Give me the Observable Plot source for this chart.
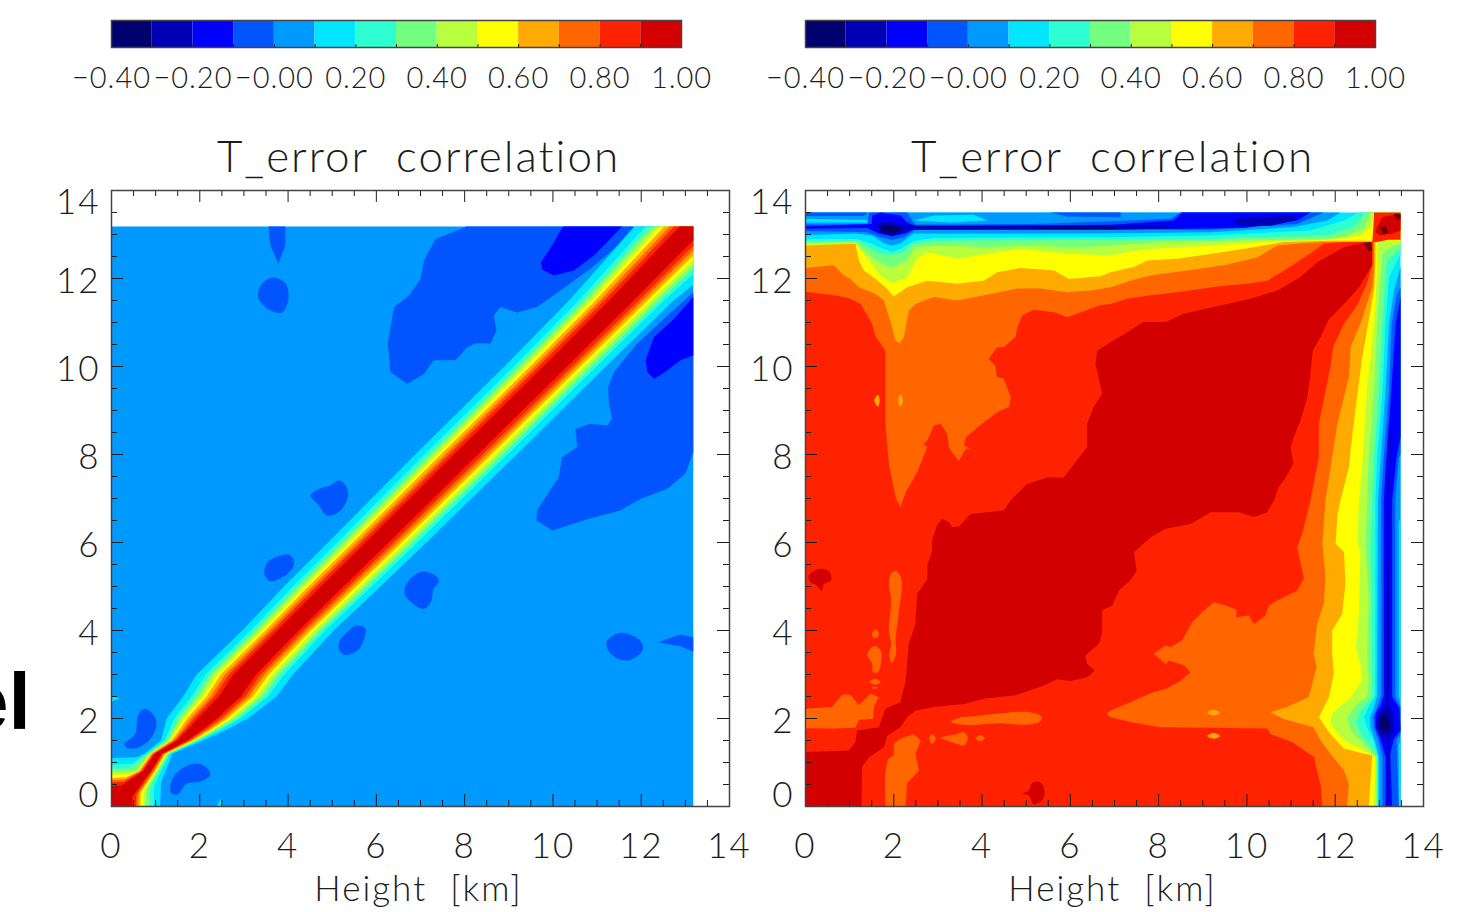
<!DOCTYPE html>
<html><head><meta charset="utf-8">
<script src="https://cdn.jsdelivr.net/npm/d3@7"></script>
<script src="https://cdn.jsdelivr.net/npm/@observablehq/plot@0.6"></script>
<style>
html,body{margin:0;padding:0;background:#fff;width:1457px;height:912px;overflow:hidden}
#stage{position:relative;width:1457px;height:912px;overflow:hidden}
#stage>svg{position:absolute}
#cut{position:absolute;left:-36px;top:662px;font:bold 80px/1 "Liberation Sans";color:#000}
</style></head><body><div id="stage"><div id="cut">el</div></div>
<script>
// ---- colour key ----
const binStarts=[-0.4,-0.3,-0.2,-0.1,0,0.1,0.2,0.3,0.4,0.5,0.6,0.7,0.8,0.9];
const binThresholds=[-0.3,-0.2,-0.1,0,0.1,0.2,0.3,0.4,0.5,0.6,0.7,0.8,0.9,1.0];
const binColors=["#00006e","#0000b4","#0000ff","#0055ff","#0099ff","#00e6ff","#2effd1","#73ff80","#b8ff3d","#ffff00","#ffaa00","#ff6600","#ff2200","#d20000","#700000"];
const keyTicks=[-0.4,-0.2,0,0.2,0.4,0.6,0.8,1.0];
const keyLabels=["−0.40","−0.20","−0.00","0.20","0.40","0.60","0.80","1.00"];
// ---- axes ----
const majorTicks=[0,2,4,6,8,10,12,14];
const minorTicks=[0.5,1,1.5,2.5,3,3.5,4.5,5,5.5,6.5,7,7.5,8.5,9,9.5,10.5,11,11.5,12.5,13,13.5];
const titleText="T_error  correlation";
const axisText="Height  [km]";

// ---- left panel: contour outlines in km ----
const leftBase=[[0,0],[13.18,0],[13.18,13.18],[0,13.18]];
const lBlueUpper=[[8.04,13.18],[7.87,13.11],[7.34,12.9],[7.08,12.41],[7.0,11.99],[6.74,11.61],[6.4,11.35],[6.26,10.52],[6.32,9.87],[6.7,9.61],[7.08,9.83],[7.3,10.14],[7.79,10.14],[8.06,10.44],[8.25,10.53],[8.59,10.52],[8.72,10.82],[8.66,11.16],[8.81,11.35],[9.19,11.23],[9.64,11.35],[10.17,11.73],[10.85,12.22],[11.38,12.67],[11.83,13.18]];
const lDeepUpper=[[10.23,13.18],[9.98,12.75],[9.73,12.37],[9.76,12.2],[10.02,12.07],[10.47,12.18],[10.93,12.52],[11.57,13.18]];
const lBlueLower=[[13.18,11.69],[12.51,11.08],[11.91,10.52],[11.38,9.87],[11.25,9.53],[11.27,9.15],[11.34,8.81],[11.23,8.66],[10.85,8.7],[10.51,8.58],[10.55,8.17],[10.21,7.94],[10.13,7.48],[9.91,7.14],[9.64,6.73],[9.63,6.5],[9.99,6.27],[10.85,6.55],[11.53,6.73],[11.98,6.99],[12.59,7.22],[13.0,7.57],[13.18,8.05]];
const lDeepLower=[[13.18,11.58],[12.74,11.08],[12.29,10.67],[12.1,10.14],[12.14,9.87],[12.29,9.72],[12.51,9.85],[12.89,10.14],[13.18,10.25]];
const lSmallBlue=[
 [[3.56,13.18],[3.94,13.18],[3.94,12.75],[3.78,12.34],[3.6,12.75]],
 [[3.65,12.02],[3.94,11.89],[4.01,11.55],[3.87,11.23],[3.6,11.27],[3.33,11.55],[3.38,11.84]],
 [[4.51,7.07],[4.66,7.2],[4.96,7.3],[5.15,7.41],[5.3,7.3],[5.36,7.07],[5.19,6.73],[4.89,6.61],[4.7,6.84]],
 [[3.49,5.48],[3.6,5.61],[4.02,5.73],[4.13,5.59],[4.09,5.4],[3.87,5.21],[3.6,5.12],[3.47,5.25]],
 [[6.74,5.14],[7.04,5.34],[7.3,5.27],[7.42,5.12],[7.3,4.95],[7.23,4.64],[7.06,4.49],[6.64,4.83]],
 [[5.3,3.92],[5.53,4.11],[5.75,4.04],[5.68,3.7],[5.53,3.51],[5.26,3.45],[5.15,3.58],[5.17,3.77]],
 [[11.21,3.73],[11.53,3.95],[11.98,3.77],[12.03,3.55],[11.71,3.32],[11.35,3.43]],
 [[12.37,3.73],[12.89,3.91],[13.18,3.84],[13.18,3.52],[12.89,3.64]],
 [[0.29,1.42],[0.54,1.65],[0.6,2.07],[0.75,2.22],[0.96,2.07],[1.02,1.84],[0.85,1.5],[0.58,1.33],[0.36,1.33]],
 [[1.34,0.52],[1.49,0.78],[1.86,0.97],[2.09,0.93],[2.24,0.73],[2.02,0.57],[1.71,0.52],[1.49,0.27],[1.35,0.32]]
];
const lCyanBits=[[[2.38,0],[2.47,0.17],[2.52,0]],[[0,2.38],[0.18,2.46],[0,2.52]]];
// diagonal ridge, read as half-widths per contour and a centre/width profile along it
const ridgeLevels=[0.15,0.25,0.35,0.45,0.55,0.65,0.75,0.85,0.95];
const ridgeHalfWidth=[1.15,0.94,0.84,0.75,0.66,0.57,0.47,0.38,0.27];
const ridgeCorner=[1.1,0.95,0.85,0.78,0.72,0.65,0.6,0.55,0.47];
const ridgeHeight=[0.8,1.2,1.5,1.75,2,2.5,3,4,5,6,8,10,11.5];
const ridgeCentre=[0.8,1.06,1.6,1.9,2.17,2.68,3.02,4,5,6.02,8.03,10.05,11.55];
const ridgeProfile=[0.32,0.28,0.42,0.62,0.8,0.92,0.95,0.9,0.95,0.97,1,1,1.03];
const ridgeEnd=13.18, ridgeEndProfile=1.15;

// ---- right panel: contour outlines in km ----
const rightBase=[[0,0],[13.48,0],[13.48,13.5],[0,13.5]];
const rGe20=[[0,0],[12.97,0],[12.97,1.12],[12.88,1.46],[12.72,1.8],[12.65,2.03],[12.76,2.26],[12.91,2.52],[12.91,6.96],[12.95,7.94],[13.07,9.45],[13.14,10.97],[13.22,12.03],[13.48,12.56],[13.48,13.5],[12.54,13.5],[12.2,13.32],[11.44,13.09],[9.18,12.98],[6.91,12.94],[2.91,12.92],[2.45,12.86],[2.15,12.67],[1.96,12.61],[1.77,12.67],[1.51,12.79],[1.17,12.9],[0,12.89]];
const rGe30=[[0,0],[12.95,0],[12.95,1.12],[12.88,1.27],[12.65,1.54],[12.46,1.92],[12.61,2.22],[12.84,2.49],[12.84,2.86],[12.8,5.97],[12.84,6.96],[12.88,7.94],[12.99,9.45],[13.07,10.97],[13.14,12.1],[13.18,12.41],[13.48,12.67],[13.48,13.5],[12.69,13.5],[12.42,13.17],[11.82,12.98],[9.18,12.9],[6.91,12.88],[2.91,12.86],[2.42,12.79],[2.23,12.6],[1.96,12.54],[1.7,12.56],[1.44,12.71],[1.17,12.86],[0,12.85]];
const rGe40=[[0,0],[12.93,0],[12.93,1.12],[12.65,1.42],[12.35,1.73],[12.27,2.03],[12.46,2.3],[12.72,2.49],[12.76,2.86],[12.72,3.47],[12.76,4.68],[12.69,5.97],[12.72,6.96],[12.76,7.94],[12.88,9.45],[12.95,10.97],[13.03,12.1],[13.07,12.56],[13.25,12.71],[13.48,12.79],[13.48,13.5],[12.8,13.5],[12.65,13.13],[12.2,12.94],[11.82,12.9],[9.18,12.85],[8.04,12.83],[6.91,12.75],[6.16,12.7],[5.17,12.75],[4.12,12.71],[3.06,12.75],[2.49,12.71],[2.3,12.41],[1.96,12.24],[1.66,12.37],[1.36,12.6],[1.13,12.83],[0,12.8]];
const rGe50=[[0,0],[12.88,0],[12.91,1.12],[12.57,1.31],[12.2,1.5],[11.89,1.88],[11.93,2.11],[12.35,2.49],[12.61,2.86],[12.57,3.24],[12.46,3.62],[12.5,3.92],[12.54,4.45],[12.57,5.82],[12.5,5.97],[12.54,6.96],[12.61,7.71],[12.72,9.45],[12.88,10.97],[12.95,12.1],[12.95,12.86],[13.48,12.85],[13.48,13.5],[12.88,13.5],[12.8,13.17],[12.57,12.98],[11.82,12.88],[10.31,12.83],[9.18,12.75],[7.82,12.67],[7.29,12.6],[6.91,12.52],[6.53,12.54],[5.93,12.56],[4.87,12.67],[4.12,12.56],[3.44,12.45],[2.76,12.6],[2.53,12.45],[2.3,12.02],[1.96,11.89],[1.7,12.07],[1.4,12.45],[1.17,12.75],[0,12.77]];
const rGe60=[[0,0],[12.76,0],[12.82,0.9],[12.84,1.16],[12.2,1.31],[11.89,1.65],[11.63,2.03],[11.86,2.49],[11.97,3.02],[11.93,3.47],[11.93,4.0],[12.16,4.38],[12.23,5.06],[12.2,5.78],[12.01,5.97],[12.05,6.65],[12.12,6.96],[12.31,7.71],[12.39,8.47],[12.61,10.21],[12.88,11.73],[12.91,12.3],[12.91,12.86],[11.82,12.86],[10.84,12.83],[10.16,12.71],[9.48,12.6],[8.42,12.45],[7.74,12.41],[7.44,12.26],[6.91,12.14],[6.68,12.05],[5.97,11.99],[5.63,12.18],[4.87,12.24],[4.34,12.14],[4.04,11.95],[3.44,11.88],[2.76,11.95],[2.3,11.8],[2.0,11.59],[1.81,11.8],[1.59,11.99],[1.32,12.18],[1.21,12.41],[1.13,12.79],[0,12.75]];
const rGe70=[[0,0],[12.27,0],[12.31,0.51],[12.2,0.82],[11.89,1.2],[11.67,1.5],[11.51,1.8],[10.84,1.99],[10.53,2.14],[10.91,2.26],[11.4,2.49],[11.58,3.17],[11.51,3.47],[11.59,4.15],[11.74,4.61],[11.78,5.21],[11.71,5.97],[11.78,6.96],[11.93,7.94],[12.05,8.7],[12.31,9.76],[12.35,10.44],[12.57,10.97],[12.84,11.8],[12.88,12.3],[12.88,12.83],[11.74,12.83],[11.14,12.79],[10.69,12.75],[10.23,12.48],[9.48,12.3],[8.65,12.18],[7.82,12.07],[7.36,11.95],[6.91,11.8],[6.46,11.73],[5.93,11.69],[5.32,11.77],[4.8,11.77],[4.19,11.65],[3.44,11.5],[2.91,11.58],[2.49,11.42],[2.34,11.27],[2.23,10.67],[2.13,10.52],[2.04,10.59],[1.96,10.89],[1.87,11.2],[1.78,11.5],[1.59,11.65],[1.21,11.8],[1.02,11.99],[0.87,12.07],[0.64,12.3],[0,12.24]];
const rGe80=[[0,0],[11.71,0],[11.68,0.44],[11.55,0.97],[11.53,1.12],[11.03,1.46],[10.53,1.65],[10.46,1.77],[9.18,1.79],[8.04,1.8],[7.36,1.92],[6.91,2.03],[6.82,2.11],[6.91,2.18],[7.36,2.37],[7.89,2.6],[8.16,2.67],[8.5,2.86],[8.72,3.05],[8.57,3.21],[8.23,3.32],[8.16,3.24],[7.89,3.47],[8.16,3.66],[8.27,3.62],[8.53,3.77],[8.76,4.19],[9.02,4.45],[9.25,4.64],[9.52,4.57],[9.76,4.47],[9.76,4.3],[10.04,4.34],[10.16,4.15],[10.42,4.34],[10.5,4.57],[10.76,4.72],[11.14,4.91],[11.29,5.18],[11.14,5.89],[11.25,6.2],[11.44,6.96],[11.63,7.94],[11.63,8.7],[11.89,9.98],[11.95,10.44],[12.2,10.97],[12.5,11.39],[12.72,11.88],[12.84,12.33],[12.84,12.83],[12.2,12.83],[11.74,12.79],[11.37,12.52],[10.91,12.22],[10.46,11.95],[10.0,11.88],[9.33,11.82],[8.42,11.69],[7.74,11.61],[7.29,11.54],[6.91,11.42],[6.68,11.39],[6.46,11.31],[5.93,11.12],[5.66,11.23],[5.17,11.29],[4.91,11.16],[4.8,10.89],[4.76,10.67],[4.49,10.44],[4.34,10.44],[4.15,10.17],[4.3,10.02],[4.34,9.76],[4.49,9.72],[4.65,9.3],[4.61,9.08],[4.34,8.96],[4.0,8.7],[3.63,8.39],[3.59,8.2],[3.74,8.13],[3.63,8.13],[3.47,7.86],[3.32,8.05],[3.25,8.17],[3.21,8.47],[3.06,8.7],[2.91,8.66],[2.76,8.32],[2.67,8.23],[2.76,8.17],[2.53,7.6],[2.27,7.14],[2.15,6.8],[2.04,7.03],[1.89,7.79],[1.81,8.7],[1.81,10.36],[1.7,10.52],[1.59,10.67],[1.51,10.97],[1.25,11.42],[1.02,11.54],[0.72,11.61],[0,11.7]];
const rGe90=[[12.84,12.83],[12.84,12.3],[12.54,11.8],[12.2,11.42],[11.86,11.08],[11.67,10.67],[11.49,10.36],[11.44,9.83],[11.37,9.3],[11.21,8.77],[11.06,8.39],[10.99,8.17],[11.05,7.79],[10.88,7.48],[10.72,7.26],[10.61,6.95],[10.46,6.69],[10.16,6.58],[9.82,6.69],[9.18,6.69],[8.72,6.42],[8.16,6.31],[7.82,6.12],[7.44,5.78],[7.5,5.36],[7.36,5.14],[7.1,4.91],[6.95,4.57],[6.72,4.46],[6.72,3.96],[6.65,3.7],[6.34,3.43],[6.38,3.24],[6.55,3.09],[6.38,2.94],[6.0,2.85],[5.7,2.89],[5.4,2.75],[5.1,2.64],[4.72,2.52],[4.04,2.45],[3.59,2.33],[2.91,2.26],[2.49,2.18],[2.3,2.03],[2.15,1.8],[1.85,1.61],[1.78,1.35],[1.44,1.12],[1.28,0.9],[1.27,0],[0,0],[0,1.24],[0.98,1.27],[1.13,1.46],[1.17,1.73],[1.66,1.8],[1.81,2.22],[2.15,2.37],[2.27,2.86],[2.34,3.7],[2.49,4.15],[2.53,4.83],[2.76,5.17],[2.76,5.48],[2.87,5.82],[2.87,6.05],[2.98,6.39],[3.1,6.54],[3.25,6.46],[3.32,6.35],[3.47,6.36],[3.74,6.65],[4.49,6.73],[4.65,6.96],[5.02,7.33],[5.48,7.48],[5.85,7.48],[6.38,8.17],[6.38,8.7],[6.53,9.08],[6.72,9.38],[6.57,10.06],[6.61,10.36],[6.91,10.55],[7.29,10.78],[7.66,11.01],[8.16,11.01],[8.57,11.2],[9.25,11.35],[10.08,11.54],[10.69,11.73],[11.21,12.03],[11.59,12.37],[12.2,12.71],[12.72,12.83]];
const rCornerRed=[[12.88,13.5],[13.48,13.5],[13.48,12.88],[13.2,12.88],[12.95,12.83],[12.84,12.83],[12.86,13.1]];
const rCornerCore=[[12.95,13.17],[13.07,13.39],[13.33,13.45],[13.48,13.43],[13.48,13.09],[13.29,13.02],[13.03,12.98],[12.91,13.05]];
const rCornerPeaks=[
 [[13.01,13.15],[13.14,13.2],[13.2,13.05],[13.1,13]],
 [[13.33,13.47],[13.48,13.47],[13.48,13.36],[13.39,13.33]],
 [[12.63,12.8],[12.79,12.83],[12.84,12.65],[12.76,12.62]]
];
const rIslands70=[
 [[0,2.22],[0.6,2.26],[0.83,2.54],[1.02,2.54],[1.21,2.3],[1.47,2.56],[1.66,2.49],[1.55,2.26],[1.53,1.99],[1.21,1.97],[1.13,1.79],[0.64,1.77],[0,1.78]],
 [[2.04,5.35],[2.17,5.17],[2.11,4.38],[2.04,3.77],[2.05,3.47],[1.95,3.26],[1.9,3.47],[1.94,3.7],[1.89,4.0],[1.94,4.68],[1.89,5.06],[1.94,5.29]],
 [[1.51,3.94],[1.59,4.02],[1.66,3.94],[1.61,3.83],[1.53,3.85]],
 [[1.4,3.46],[1.56,3.65],[1.7,3.55],[1.72,3.39],[1.64,3.05],[1.53,3.05],[1.51,3.24]],
 [[1.45,2.84],[1.59,2.9],[1.7,2.83],[1.59,2.77]],
 [[1.5,2.71],[1.64,2.71],[1.56,2.67]],
 [[1.81,0],[1.8,0.74],[1.87,1.08],[2.0,1.16],[2.0,1.42],[2.15,1.54],[2.45,1.65],[2.61,1.5],[2.49,1.2],[2.57,0.82],[2.3,0.52],[2.27,0]],
 [[3.29,1.92],[3.5,2.02],[3.81,2.05],[4.34,2.11],[5.02,2.15],[5.34,2.05],[5.32,1.94],[5.02,1.86],[4.42,1.89],[3.89,1.86],[3.59,1.86]],
 [[3.06,1.56],[3.44,1.65],[3.59,1.69],[3.68,1.56],[3.59,1.39],[3.44,1.42],[3.21,1.5]],
 [[2.8,1.54],[2.87,1.65],[2.95,1.54],[2.87,1.42]],
 [[3.85,1.55],[3.97,1.62],[4.06,1.55],[3.95,1.48]]
];
const rIslands60=[
 [[9.1,2.14],[9.25,2.2],[9.39,2.13],[9.25,2.07]],
 [[9.1,1.6],[9.25,1.67],[9.39,1.6],[9.25,1.54]],
 [[1.56,9.23],[1.64,9.36],[1.68,9.23],[1.64,9.09]],
 [[2.1,9.23],[2.15,9.36],[2.21,9.23],[2.15,9.09]]
];
const rIslands90=[
 [[0.08,5.25],[0.3,5.4],[0.53,5.35],[0.58,5.14],[0.42,5.05],[0.36,4.9],[0.26,5.02],[0.1,5.1]],
 [[4.91,0.29],[5.06,0.36],[5.14,0.54],[5.33,0.54],[5.42,0.33],[5.36,0.14],[5.17,0.05],[5.06,0.25]]
];
// low-correlation strip along the top
const topBelow10=[[0,12.99],[1.13,13.02],[1.51,12.98],[1.78,12.8],[1.96,12.75],[2.15,12.8],[2.45,13.02],[6.91,13.03],[9.18,13.05],[11.06,13.17],[11.82,13.32],[12.12,13.5],[0,13.5]];
const topCyanRows=[
 [[0,13.36],[1.4,13.33],[1.44,13.27],[0,13.27]],
 [[2.45,13.32],[2.91,13.43],[3.81,13.45],[4.12,13.32],[3.29,13.27]]
];
const topEdgeBlue=[
 [[0,13.5],[1.4,13.5],[1.33,13.42],[0,13.42]],
 [[5.55,13.5],[7.14,13.5],[7.14,13.39],[5.93,13.41]]
];
const topBelow0=[[0,13.08],[1.4,13.05],[1.7,12.94],[1.96,12.88],[2.23,12.94],[2.49,13.11],[9.18,13.11],[11.14,13.24],[11.74,13.5],[8.5,13.5],[8.27,13.36],[7.67,13.33],[6.91,13.3],[5.17,13.24],[2.49,13.23],[2.3,13.5],[1.44,13.5],[1.4,13.24],[0,13.23]];
const topBelowM10=[[0,13.13],[1.4,13.15],[1.66,13.02],[1.96,12.96],[2.27,13.03],[2.49,13.14],[8.42,13.13],[9.93,13.15],[11.14,13.32],[11.44,13.5],[8.53,13.5],[8.34,13.32],[7.67,13.27],[6.91,13.22],[2.53,13.19],[2.3,13.28],[2.15,13.43],[1.7,13.5],[1.51,13.43],[1.5,13.24],[0,13.19]];
const topBelowM20=[
 [[1.59,13.2],[1.78,13.28],[1.96,13.28],[2.23,13.2],[8.04,13.2],[8.65,13.14],[6.91,13.11],[2.3,13.11],[2.15,13.02],[1.96,12.98],[1.74,13.02]],
 [[9.78,13.36],[10.99,13.43],[11.14,13.33],[10.54,13.2],[9.86,13.2],[9.7,13.28]]
];
const topBelowM30=[
 [[1.66,13.17],[1.85,13.22],[2.15,13.17],[2.15,13.08],[1.96,13.0],[1.74,13.05]],
 [[5.2,13.17],[7.0,13.17],[7.0,13.12],[5.2,13.13]]
];
// low-correlation strip along the right
const sideBelow10=[[12.99,0],[12.99,1.12],[12.91,1.46],[12.8,1.8],[12.79,2.03],[12.88,2.26],[12.95,2.52],[12.97,6.96],[13.03,7.94],[13.14,9.45],[13.22,10.97],[13.33,11.73],[13.48,12.26],[13.48,0]];
const sideEdgeCyan=[[[13.44,0],[13.48,0],[13.48,1.5],[13.44,1.4]],[[13.44,2.5],[13.48,2.4],[13.48,6.5],[13.44,6.5]]];
const sideBelow0=[[13.07,0],[13.07,1.12],[12.99,1.46],[12.88,1.8],[12.86,2.03],[12.95,2.26],[13.04,2.52],[13.04,6.96],[13.1,7.94],[13.22,9.45],[13.28,10.97],[13.4,11.65],[13.48,11.8],[13.48,8],[13.44,7.94],[13.36,6.96],[13.36,2.49],[13.48,2.26],[13.48,1.65],[13.39,1.5],[13.44,0]];
const sideBelowM10=[[13.14,0],[13.14,1.12],[13.03,1.5],[12.91,1.8],[12.91,2.11],[13.03,2.3],[13.1,2.52],[13.1,6.96],[13.16,7.94],[13.27,9.45],[13.37,10.97],[13.48,11.58],[13.48,8.4],[13.39,7.94],[13.29,6.96],[13.29,2.49],[13.46,2.22],[13.48,1.73],[13.33,1.54],[13.25,1.2],[13.29,0]];
const sideBelowM20=[[13.17,0],[13.17,1.5],[12.99,1.65],[12.93,1.92],[13.03,2.18],[13.16,2.26],[13.17,6.96],[13.23,7.94],[13.27,8.9],[13.26,7.94],[13.21,6.96],[13.21,2.26],[13.33,2.11],[13.33,1.73],[13.21,1.5],[13.21,0]];
const sideBelowM30=[
 [[13.03,2.07],[13.14,2.11],[13.22,2.0],[13.22,1.73],[13.1,1.69],[12.99,1.8]],
 [[13.17,5.4],[13.2,5.4],[13.2,2.1],[13.17,2.1]]
];

// ---- assemble painter-ordered regions (low contours first, islands on top) ----
function ridgeOutline(i){
  const w=ridgeHalfWidth[i], c=ridgeCorner[i];
  const idx=ridgeHeight.map((_,k)=>k).filter(k=>ridgeHeight[k]>c);
  const lower=idx.map(k=>[ridgeCentre[k]+w*ridgeProfile[k],ridgeHeight[k]]);
  const upper=idx.slice().reverse().map(k=>[ridgeCentre[k]-w*ridgeProfile[k],ridgeHeight[k]]);
  const e=w*ridgeEndProfile;
  return [[0,0],[c,0],[c*1.02,c*0.5],...lower,[ridgeEnd,ridgeEnd-e],[ridgeEnd,ridgeEnd],[ridgeEnd-e,ridgeEnd],...upper,[c*0.5,c*1.02],[0,c]];
}
const inner=(p,maxX,maxY)=>p.every(([x,y])=>x>0&&y>0&&x<maxX&&y<maxY);
const lInner=lSmallBlue.filter(p=>inner(p,13.18,13.18));
const lEdge=lSmallBlue.filter(p=>!inner(p,13.18,13.18));
const rAll70=rIslands70.map(p=>[0.75,p]);
const rInner70=rAll70.filter(([,p])=>inner(p,13.48,13.5));
const rEdge70=rAll70.filter(([,p])=>!inner(p,13.48,13.5));
const leftLayers=[
  [[[0.05,leftBase],[-0.05,lBlueUpper],[-0.15,lDeepUpper],[-0.05,lBlueLower],[-0.15,lDeepLower],...lEdge.map(p=>[-0.05,p]),...lCyanBits.map(p=>[0.15,p])],"linear-closed"],
  [lInner.map(p=>[-0.05,p]),"catmull-rom-closed"],
  [ridgeLevels.map((l,i)=>[l,ridgeOutline(i)]),"linear-closed"]
];
const rightLayers=[
  [[[0.15,rightBase],[0.25,rGe20],[0.35,rGe30],[0.45,rGe40],[0.55,rGe50],[0.65,rGe60],[0.75,rGe70],[0.85,rGe80],[0.95,rGe90],...rEdge70],"linear-closed"],
  [[...rInner70,...rIslands60.map(p=>[0.65,p]),...rIslands90.map(p=>[0.95,p])],"catmull-rom-closed"],
  [[[0.85,rCornerRed],[0.95,rCornerCore],...rCornerPeaks.map(p=>[1.05,p]),
    [0.05,topBelow10],...topCyanRows.map(p=>[0.15,p]),...topEdgeBlue.map(p=>[-0.05,p]),[-0.05,topBelow0],[-0.15,topBelowM10],...topBelowM20.map(p=>[-0.25,p]),...topBelowM30.map(p=>[-0.35,p]),
    [0.05,sideBelow10],...sideEdgeCyan.map(p=>[0.15,p]),[-0.05,sideBelow0],[-0.15,sideBelowM10],[-0.25,sideBelowM20],...sideBelowM30.map(p=>[-0.35,p])],"linear-closed"]
];
const rows=regions=>regions.flatMap(([level,pts],id)=>pts.map(([x,y])=>({x,y,level,id})));

const FONT='Lato, "Open Sans", sans-serif';
const colorScale={type:"threshold",domain:binThresholds,range:binColors};
const inkColor="#1c1c1c";

function panel(layers,left,width,mLeft,mRight){
  const H=782,mT=60,mB=106,innerH=H-mT-mB,innerW=width-mLeft-mRight;
  const textOpts={fill:inkColor,fontWeight:300,lineAnchor:"middle"};
  const yLabel=(vals,dy)=>Plot.text(vals,{y:d=>d,text:d=>String(d),frameAnchor:"left",textAnchor:"end",dx:-11,dy,fontSize:35,...textOpts});
  const svg=Plot.plot({
    width,height:H,marginLeft:mLeft,marginRight:mRight,marginTop:mT,marginBottom:mB,
    x:{domain:[0,14],axis:null},y:{domain:[0,14],axis:null},
    color:colorScale,
    style:{fontFamily:FONT,background:"transparent",overflow:"visible",letterSpacing:"2px"},
    marks:[
      ...layers.map(([regions,curve])=>Plot.line(rows(regions),{x:"x",y:"y",z:"id",fill:"level",stroke:"none",curve})),
      Plot.tickX(majorTicks,{x:d=>d,insetTop:innerH-12,stroke:inkColor}),
      Plot.tickX(minorTicks,{x:d=>d,insetTop:innerH-6,stroke:inkColor}),
      Plot.tickX(majorTicks,{x:d=>d,insetBottom:innerH-12,stroke:inkColor}),
      Plot.tickX(minorTicks,{x:d=>d,insetBottom:innerH-6,stroke:inkColor}),
      Plot.tickY(majorTicks,{y:d=>d,insetRight:innerW-12,stroke:inkColor}),
      Plot.tickY(minorTicks,{y:d=>d,insetRight:innerW-6,stroke:inkColor}),
      Plot.tickY(majorTicks,{y:d=>d,insetLeft:innerW-12,stroke:inkColor}),
      Plot.tickY(minorTicks,{y:d=>d,insetLeft:innerW-6,stroke:inkColor}),
      Plot.frame({stroke:"#444",strokeWidth:1.5}),
      Plot.text(majorTicks,{x:d=>d,text:d=>String(d),frameAnchor:"bottom",dy:40,fontSize:35,...textOpts}),
      yLabel(majorTicks.filter(d=>d>0&&d<14),3),
      yLabel([0],-11),
      yLabel([14],12),
      Plot.text([axisText],{frameAnchor:"bottom",dy:83,fontSize:35,...textOpts,dx:-2}),
      Plot.text([titleText],{frameAnchor:"top",dy:-33,fontSize:44,...textOpts,dx:-2})
    ]
  });
  svg.style.left=left+"px";svg.style.top="130px";
  return svg;
}
function colorBar(left,width,mLeft,mRight){
  const svg=Plot.plot({
    width,height:100,marginLeft:mLeft,marginRight:mRight,marginTop:20,marginBottom:53,
    x:{domain:[-0.4,1],axis:null},y:{axis:null},
    color:colorScale,
    style:{fontFamily:FONT,background:"transparent",overflow:"visible",letterSpacing:"1px"},
    marks:[
      Plot.rect(binStarts,{x1:d=>d,x2:d=>d+0.1,fill:d=>d+0.05,stroke:"none"}),
      Plot.tickX(binStarts.concat([1]),{x:d=>d,insetTop:24,stroke:inkColor}),
      Plot.frame({stroke:"#444",strokeWidth:1.5}),
      Plot.text(keyTicks,{x:d=>d,text:(d,i)=>keyLabels[i],frameAnchor:"bottom",dy:31,fontSize:29,fill:inkColor,fontWeight:300,lineAnchor:"middle"})
    ]
  });
  svg.style.left=left+"px";svg.style.top="0px";
  return svg;
}
const stage=document.getElementById("stage");
stage.append(
  colorBar(0,750,111,69),
  colorBar(750,707,55,82),
  panel(leftLayers,0,750,111,21),
  panel(rightLayers,750,707,55,34)
);
</script></body></html>
